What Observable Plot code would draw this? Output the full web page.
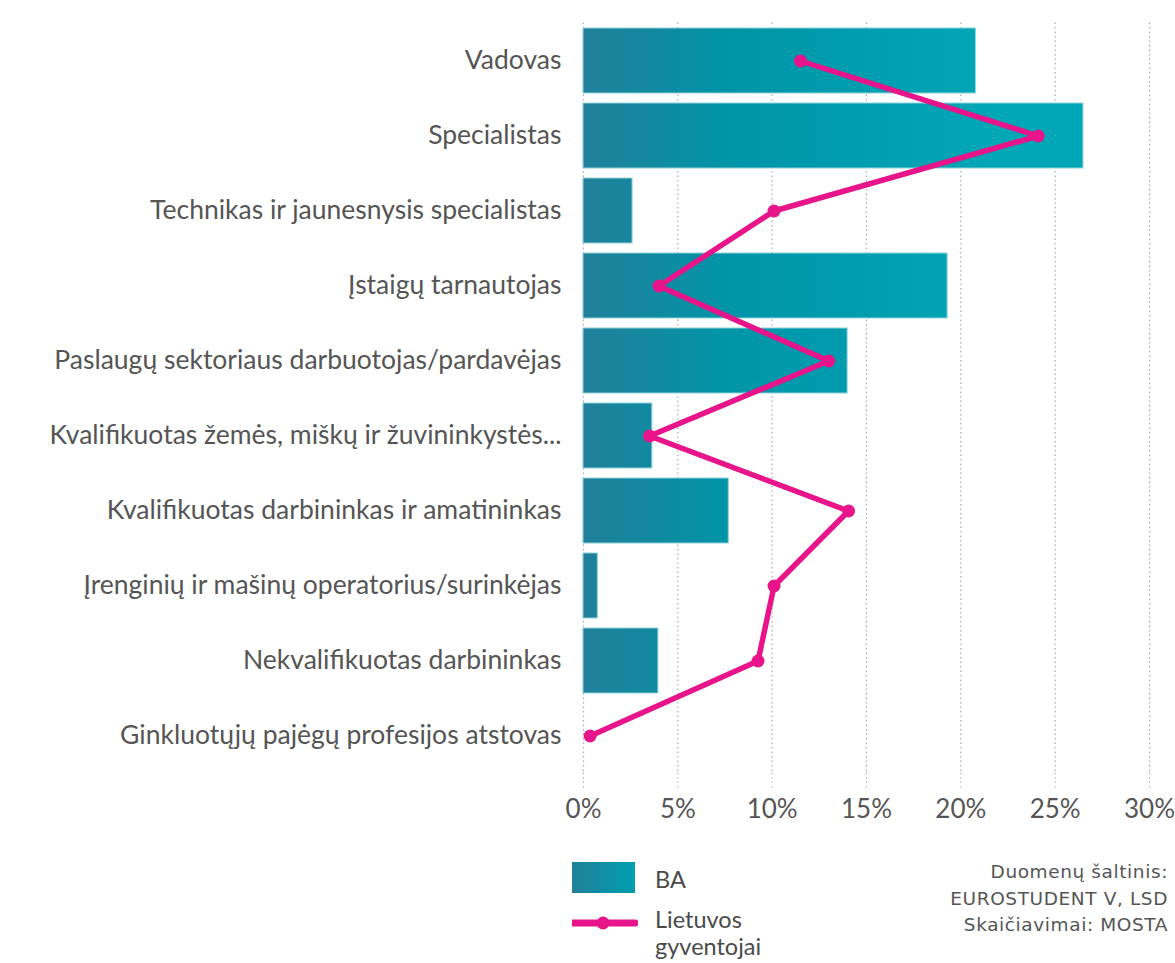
<!DOCTYPE html>
<html><head><meta charset="utf-8">
<script src="https://cdn.jsdelivr.net/npm/d3@7"></script>
<script src="https://cdn.jsdelivr.net/npm/@observablehq/plot@0.6"></script>
<style>
body{margin:0;background:#fff;font-family:Lato,"Open Sans",sans-serif;}
#wrap{position:relative;width:1175px;height:963px;}
.lg{position:absolute;color:#4a4a4a;font-family:Lato,sans-serif;font-size:23.5px;line-height:27px;white-space:nowrap;}
.src{position:absolute;right:7px;top:859px;text-align:right;color:#555;font-family:"DejaVu Sans",sans-serif;font-size:18.5px;line-height:26.5px;letter-spacing:0.6px;}
</style></head>
<body><div id="wrap"></div>
<script>
const categories = [
  "Vadovas",
  "Specialistas",
  "Technikas ir jaunesnysis specialistas",
  "Įstaigų tarnautojas",
  "Paslaugų sektoriaus darbuotojas/pardavėjas",
  "Kvalifikuotas žemės, miškų ir žuvininkystės...",
  "Kvalifikuotas darbininkas ir amatininkas",
  "Įrenginių ir mašinų operatorius/surinkėjas",
  "Nekvalifikuotas darbininkas",
  "Ginkluotųjų pajėgų profesijos atstovas"
];
const baValues = [20.8, 26.5, 2.6, 19.3, 14.0, 3.65, 7.7, 0.76, 3.97, 0];
const gyvValues = [11.5, 24.1, 10.1, 4.0, 13.0, 3.5, 14.05, 10.1, 9.25, 0.35];
const xTicks = [0, 5, 10, 15, 20, 25, 30];
const seriesNames = ["BA", "Lietuvos gyventojai"];

const data = categories.map((c, i) => ({cat: c, ba: baValues[i], gyv: gyvValues[i]}));

const plot = Plot.plot({
  width: 1175,
  height: 835,
  marginLeft: 583,
  marginRight: 26,
  marginTop: 22.5,
  marginBottom: 62.5,
  style: {fontFamily: "Lato, sans-serif", background: "transparent"},
  x: {domain: [0, 30], ticks: xTicks, tickFormat: d => d + "%", label: null},
  y: {domain: categories, label: null, paddingInner: 0.14, paddingOuter: 0.07},
  marks: [
    Plot.ruleX(xTicks, {stroke: "#aaa", strokeWidth: 1.2, strokeDasharray: "1.5,3"}),
    Plot.axisX({ticks: xTicks, tickFormat: d => d + "%", tickSize: 16, tickPadding: 11, fontSize: 26, fill: "#555", stroke: "#aaa", strokeDasharray: "1.5,3", label: null}),
    Plot.axisY({tickSize: 0, tickPadding: 22, fontSize: 26.5, fill: "#555", label: null}),
    Plot.barX(data, {x: "ba", y: "cat", fill: "url(#baGrad)", stroke: "#8fd3da", strokeWidth: 1}),
    Plot.line(data, {x: "gyv", y: "cat", stroke: "#E8148A", strokeWidth: 5.5, curve: "linear"}),
    Plot.dot(data, {x: "gyv", y: "cat", r: 6.5, fill: "#E8148A", stroke: "none"})
  ]
});

// gradient definition
const svgNS = "http://www.w3.org/2000/svg";
const svgEl = plot.tagName.toLowerCase() === "svg" ? plot : plot.querySelector("svg");
const defs = document.createElementNS(svgNS, "defs");
defs.innerHTML = `<linearGradient id="baGrad" gradientUnits="userSpaceOnUse" x1="583" y1="0" x2="1000" y2="0">
  <stop offset="0" stop-color="#21809A"/>
  <stop offset="0.35" stop-color="#0094A8"/>
  <stop offset="1" stop-color="#00A7B7"/>
</linearGradient>`;
svgEl.insertBefore(defs, svgEl.firstChild);

const wrap = document.getElementById("wrap");
wrap.appendChild(plot);

// legend
const leg = document.createElement("div");
leg.innerHTML = `
<svg style="position:absolute;left:572px;top:862px" width="66" height="70">
  <defs><linearGradient id="lgGrad" x1="0" y1="0" x2="1" y2="0">
    <stop offset="0" stop-color="#21809A"/><stop offset="1" stop-color="#009DB0"/>
  </linearGradient></defs>
  <rect x="0" y="0" width="63" height="31" fill="url(#lgGrad)"/>
  <line x1="0" y1="61" x2="63" y2="61" stroke="#E8148A" stroke-width="7" stroke-linecap="round"/>
  <circle cx="31" cy="61" r="6.5" fill="#E8148A"/>
</svg>
<div class="lg" style="left:655px;top:866px">${seriesNames[0]}</div>
<div class="lg" style="left:655px;top:906px">Lietuvos<br>gyventojai</div>
<div class="src">Duomenų šaltinis:<br>EUROSTUDENT V, LSD<br>Skaičiavimai: MOSTA</div>`;
wrap.appendChild(leg);
</script>
</body></html>
